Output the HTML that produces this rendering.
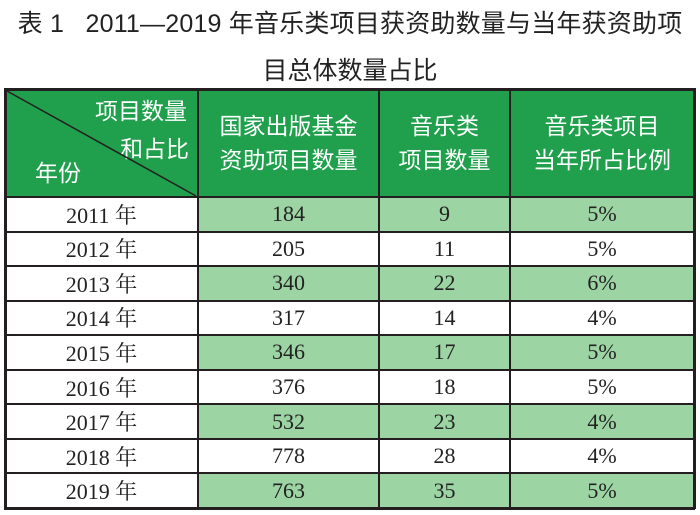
<!DOCTYPE html>
<html><head><meta charset="utf-8"><style>
body{margin:0;width:700px;height:515px;background:#fff;overflow:hidden;position:relative;font-family:"Liberation Serif","Noto Serif CJK SC",serif}
.t{position:absolute;left:0;width:700px;text-align:center;font-family:"Liberation Sans","Noto Sans CJK SC",sans-serif;font-size:25px;color:#222;white-space:nowrap}
.c{position:absolute;box-sizing:border-box;display:flex;align-items:center;justify-content:center;font-size:22px;color:#222}
.h{background:#20a04c;color:#fff;font-family:"Liberation Sans","Noto Sans CJK SC",sans-serif;font-size:23px;line-height:34px;text-align:center}
.line{position:absolute;background:#231f20}
</style></head><body>
<div class="t" style="top:4px;letter-spacing:0.2px">表 1&nbsp;&nbsp; 2011—2019 年音乐类项目获资助数量与当年获资助项</div>
<div class="t" style="top:51px">目总体数量占比</div>
<div id="tbl"></div>
<script>
const years=["2011 年","2012 年","2013 年","2014 年","2015 年","2016 年","2017 年","2018 年","2019 年"];
const totals=["184","205","340","317","346","376","532","778","763"];
const music=["9","11","22","14","17","18","23","28","35"];
const ratios=["5%","5%","6%","4%","5%","5%","4%","4%","5%"];
const cols=[5,198,379,510,694];
const top0=89, headB=197, bottom=508;
const rh=(bottom-headB)/years.length;
const tbl=document.getElementById('tbl');
function cell(x,y,w,h,txt,cls,bg,name){
  const d=document.createElement('div');
  d.className='c '+(cls||'');
  d.style.left=x+'px';d.style.top=y+'px';d.style.width=w+'px';d.style.height=h+'px';
  if(bg)d.style.background=bg;
  d.innerHTML=txt;
  
  
  tbl.appendChild(d);return d;
}
// header
cell(cols[0],top0,cols[1]-cols[0],headB-top0,'','h','#20a04c','header-corner-cell');
const hs=['国家出版基金<br>资助项目数量','音乐类<br>项目数量','音乐类项目<br>当年所占比例'];
for(let i=0;i<3;i++){cell(cols[i+1],top0,cols[i+2]-cols[i+1],headB-top0,hs[i],'h',null,'header-cell');}
const corner=[['项目数量',95,88,'right'],['和占比',120,126,'right'],['年份',35,150,'left']];
corner.forEach((c,i)=>{
  const s=document.createElement('div');
  s.style.cssText='position:absolute;color:#fff;font-family:"Liberation Sans","Noto Sans CJK SC",sans-serif;font-size:23px;top:'+(c[2]+4)+'px;left:'+c[1]+'px';
  s.textContent=c[0];
  
  
  tbl.appendChild(s);
});
// body
for(let r=0;r<years.length;r++){
  const y=headB+r*rh;const g=r%2===0?'#9dd4a4':'#fff';
  cell(cols[0],y,cols[1]-cols[0],rh,years[r],'','#fff','year-cell');
  cell(cols[1],y,cols[2]-cols[1],rh,totals[r],'',g,'total-cell');
  cell(cols[2],y,cols[3]-cols[2],rh,music[r],'',g,'music-cell');
  cell(cols[3],y,cols[4]-cols[3],rh,ratios[r],'',g,'ratio-cell');
}
function line(x,y,w,h,name){const l=document.createElement('div');l.className='line';l.style.left=x+'px';l.style.top=y+'px';l.style.width=w+'px';l.style.height=h+'px';


tbl.appendChild(l);}
line(cols[0]-1,top0-1,cols[4]-cols[0]+2,3,'table-top-border');
line(cols[0]-1,headB-1,cols[4]-cols[0]+2,2,'header-border');
for(let r=1;r<years.length;r++)line(cols[0],Math.round(headB+r*rh)-1,cols[4]-cols[0],2,'row-border');
line(cols[0]-1,bottom-1,cols[4]-cols[0]+2,3,'table-bottom-border');
cols.forEach((x,i)=>line(x-1,top0-1,(i===0||i===4)?3:2,bottom-top0+2,'column-border'));
// diagonal
const ns='http://www.w3.org/2000/svg';
const sv=document.createElementNS(ns,'svg');
sv.setAttribute('width','700');sv.setAttribute('height','515');
sv.style.cssText='position:absolute;left:0;top:0';


const ln=document.createElementNS(ns,'line');
ln.setAttribute('x1',cols[0]+2);ln.setAttribute('y1',top0+2);ln.setAttribute('x2',cols[1]-2);ln.setAttribute('y2',headB-1);
ln.setAttribute('stroke','#231f20');ln.setAttribute('stroke-width','1.5');
sv.appendChild(ln);tbl.appendChild(sv);
</script>
</body></html>
